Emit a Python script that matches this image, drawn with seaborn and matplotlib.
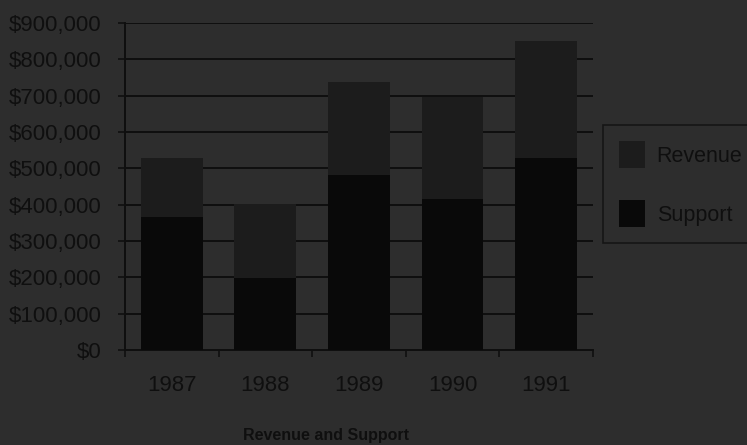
import matplotlib
matplotlib.use("Agg")
import matplotlib.pyplot as plt
import matplotlib.ticker as mticker
from matplotlib.patches import Patch
import numpy as np
import pandas as pd
import seaborn as sns

years = ["1987", "1988", "1989", "1990", "1991"]
support = [366000, 198000, 482000, 416000, 528000]
revenue = [162000, 204000, 256000, 280000, 322000]
series_names = ["Revenue", "Support"]
title = "Revenue and Support"

BG = "#2d2d2d"
REV_C = "#1c1c1c"
SUP_C = "#090909"
INK = "#0f0f0f"

sns.set_theme(style="white")
plt.rcParams["font.family"] = ["Liberation Sans", "DejaVu Sans"]

df = pd.DataFrame({"year": years, "support": support, "revenue": revenue})
df["total"] = df["support"] + df["revenue"]

fig = plt.figure(figsize=(7.47, 4.45), dpi=100, facecolor=BG)
ax = fig.add_axes([0.1673, 0.2135, 0.6265, 0.7348])
ax.set_facecolor(BG)

sns.barplot(data=df, x="year", y="total", color=REV_C, width=0.66,
            saturation=1, ax=ax, zorder=2)
sns.barplot(data=df, x="year", y="support", color=SUP_C, width=0.66,
            saturation=1, ax=ax, zorder=3)
for p in ax.patches:
    p.set_edgecolor("none")

ax.set_xlim(-0.5, 4.5)
ax.set_ylim(0, 900000)
ax.yaxis.set_major_locator(mticker.MultipleLocator(100000))
ax.yaxis.set_major_formatter(mticker.FuncFormatter(lambda v, _: f"${v:,.0f}"))
ax.grid(axis="y", color=INK, linewidth=1.4, zorder=1)
ax.set_axisbelow(True)

ax.xaxis.set_minor_locator(mticker.FixedLocator(np.arange(-0.5, 5, 1)))
ax.tick_params(axis="x", which="major", length=0, pad=18, labelsize=16, labelcolor=INK)
ax.tick_params(axis="x", which="minor", length=5, width=1.2, color=INK, direction="out", bottom=True)
ax.tick_params(axis="y", length=5, width=1.2, color=INK, direction="out", left=True,
               labelsize=16, labelcolor=INK, pad=12)

for side in ["top", "right"]:
    ax.spines[side].set_visible(False)
for side in ["left", "bottom"]:
    ax.spines[side].set_color(INK)
    ax.spines[side].set_linewidth(1.4)

ax.set_xlabel("")
ax.set_ylabel("")

handles = [Patch(facecolor=REV_C, edgecolor="none"), Patch(facecolor=SUP_C, edgecolor="none")]
leg = fig.legend(handles, series_names, loc="upper left", bbox_to_anchor=(0.807, 0.72),
                 frameon=True, fancybox=False, fontsize=15.5, labelcolor=INK,
                 handlelength=1.2, handleheight=1.6, handletextpad=0.55,
                 labelspacing=1.45, borderpad=0.75, borderaxespad=0)
leg.get_frame().set_facecolor(BG)
leg.get_frame().set_edgecolor(INK)
leg.get_frame().set_linewidth(1.2)

fig.text(0.437, 0.004, title, ha="center", va="bottom", fontsize=11.5,
         fontweight="bold", color=INK)

fig.savefig("out.png", dpi=100, facecolor=BG)
